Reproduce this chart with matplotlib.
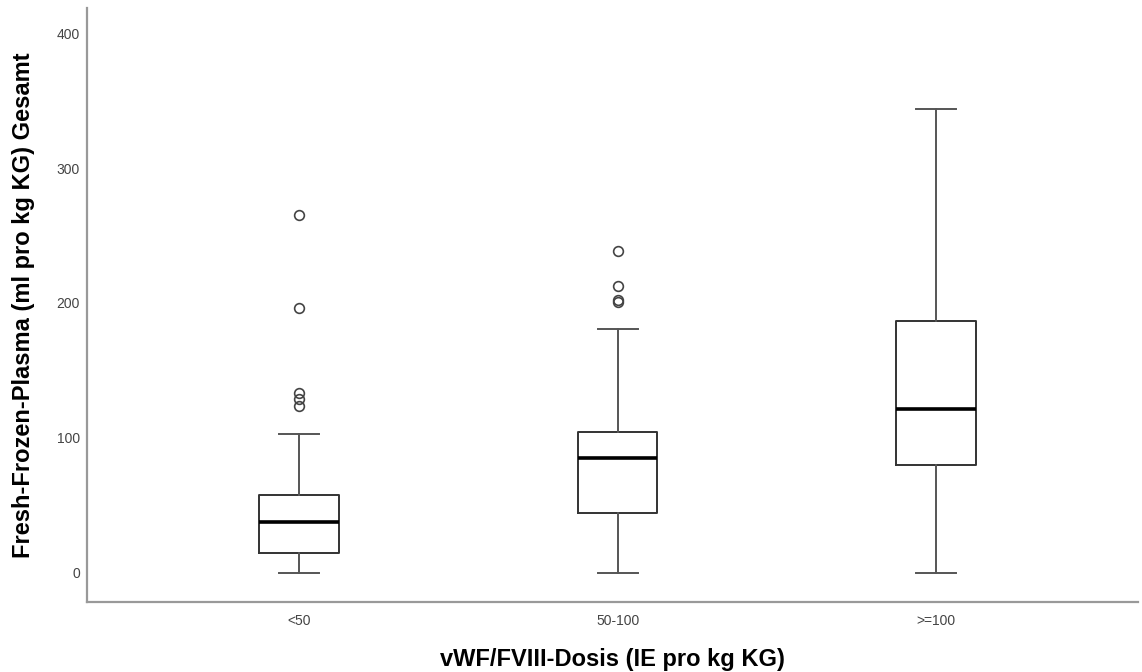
import matplotlib
matplotlib.use("Agg")
import matplotlib.pyplot as plt

categories = ["<50", "50-100", ">=100"]
whis_lo = [0, 0, 0]
q1 = [14.6, 44.2, 80.0]
median = [38.0, 85.0, 121.5]
q3 = [57.8, 104.2, 186.7]
whis_hi = [102.7, 180.7, 343.7]
outliers = [
    [265.0, 196.5, 133.0, 129.0, 123.7],
    [238.5, 212.8, 202.2, 200.5],
    [],
]
yticks = [0, 100, 200, 300, 400]

plt.rcParams['font.family'] = ['Liberation Sans', 'DejaVu Sans']

fig = plt.figure(figsize=(11.42, 6.72), dpi=100)
ax = fig.add_axes([0.0762, 0.1042, 0.9203, 0.8838])

stats = []
for i, c in enumerate(categories):
    stats.append(dict(label=c, whislo=whis_lo[i], q1=q1[i], med=median[i],
                      q3=q3[i], whishi=whis_hi[i], fliers=outliers[i]))

ax.bxp(stats, positions=[1, 2, 3], widths=0.25, showfliers=True,
       boxprops=dict(color="#333333", linewidth=1.4),
       whiskerprops=dict(color="#555555", linewidth=1.4),
       capprops=dict(color="#555555", linewidth=1.4),
       medianprops=dict(color="black", linewidth=2.6),
       flierprops=dict(marker="o", markerfacecolor="none",
                       markeredgecolor="#444444", markersize=7.0,
                       markeredgewidth=1.2),
       capwidths=0.125)

ax.set_xlim(0.334, 3.634)
ax.set_ylim(-21.5, 418.5)
ax.set_yticks(yticks)
ax.set_yticklabels([str(v) for v in yticks])
ax.set_xticks([1, 2, 3])
ax.set_xticklabels(categories)
ax.tick_params(axis="both", length=0, labelsize=10, labelcolor="#444444")
ax.tick_params(axis="y", pad=5)
ax.tick_params(axis="x", pad=9)

for s in ["top", "right"]:
    ax.spines[s].set_visible(False)
for s in ["left", "bottom"]:
    ax.spines[s].set_color("#999999")
    ax.spines[s].set_linewidth(1.6)

ax.set_xlabel("vWF/FVIII-Dosis (IE pro kg KG)", fontsize=17,
              fontweight="bold", labelpad=14)
ax.set_ylabel("Fresh-Frozen-Plasma (ml pro kg KG) Gesamt", fontsize=17,
              fontweight="bold", labelpad=15.5)

fig.savefig("out.png", dpi=100)
